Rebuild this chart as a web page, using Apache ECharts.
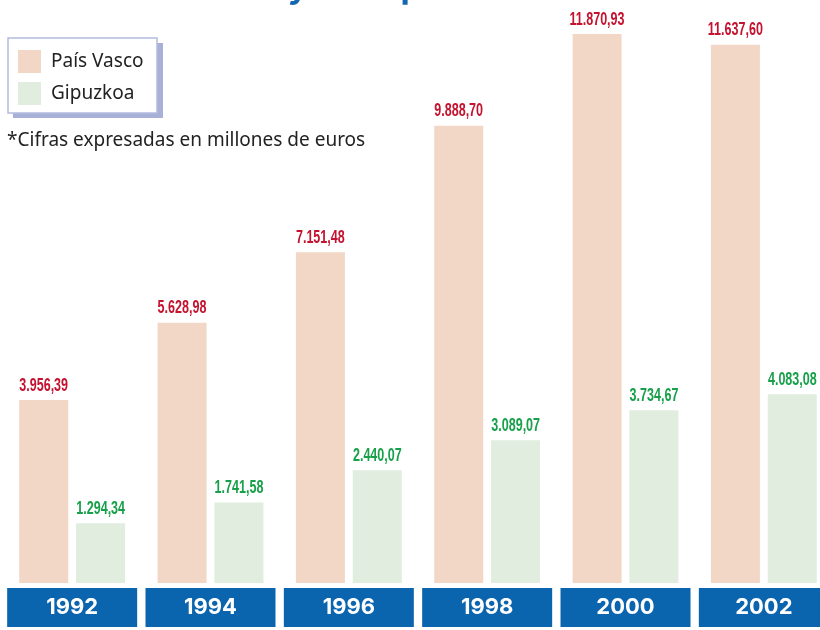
<!DOCTYPE html>
<html>
<head>
<meta charset="utf-8">
<script src="https://cdn.jsdelivr.net/npm/echarts@6/dist/echarts.min.js"></script>
<style>
  html, body { margin: 0; padding: 0; background: #fff; }
  #chart { width: 820px; height: 630px; }
</style>
</head>
<body>
<div id="chart"></div>
<script>
const years = ['1992', '1994', '1996', '1998', '2000', '2002'];
const paisVasco = [3956.39, 5628.98, 7151.48, 9888.70, 11870.93, 11637.60];
const gipuzkoa = [1294.34, 1741.58, 2440.07, 3089.07, 3734.67, 4083.08];

// 3956.39 -> "3.956,39"
function fmt(v) {
  const parts = v.toFixed(2).split('.');
  return parts[0].replace(/\B(?=(\d{3})+(?!\d))/g, '.') + ',' + parts[1];
}

// value labels in a squeezed bold face (no condensed font available)
function labelSeries(name, values, shift, color) {
  return {
    name: name + ' etiquetas',
    type: 'custom',
    data: values.map((v, i) => [i, v]),
    silent: true,
    z: 5,
    renderItem: (params, api) => {
      const pt = api.coord([api.value(0), api.value(1)]);
      return {
        type: 'text',
        x: pt[0] + shift,
        y: pt[1] - 5,
        scaleX: 0.66,
        style: {
          text: fmt(api.value(1)),
          fill: color,
          font: 'bold 19px "Liberation Sans", Arial, sans-serif',
          align: 'center',
          verticalAlign: 'bottom'
        }
      };
    }
  };
}

const chart = echarts.init(document.getElementById('chart'));
chart.setOption({
  animation: false,
  grid: {
    left: 3,
    width: 830,
    top: 28,
    bottom: 47,
    containLabel: false,
    outerBoundsMode: 'none'
  },
  legend: {
    orient: 'vertical',
    left: 8,
    top: 39,
    padding: [11, 0, 0, 10],
    itemWidth: 23,
    itemHeight: 23,
    itemGap: 9,
    icon: 'rect',
    textStyle: {
      color: '#222',
      fontFamily: '"Noto Sans", sans-serif',
      fontSize: 19,
      padding: [0, 0, 0, 5]
    },
    data: ['País Vasco', 'Gipuzkoa']
  },
  graphic: [
    {
      type: 'rect',
      z: 0,
      shape: { x: 13, y: 43, width: 150, height: 75 },
      style: { fill: '#a9b0d8' }
    },
    {
      type: 'rect',
      z: 1,
      shape: { x: 8, y: 38, width: 149, height: 75 },
      style: { fill: '#fff', stroke: '#b4bbe0', lineWidth: 1.5 }
    },
    {
      type: 'text',
      left: 7,
      top: 131,
      style: {
        text: '*Cifras expresadas en millones de euros',
        fill: '#222',
        font: '19px "Noto Sans", sans-serif'
      }
    },
    {
      type: 'text',
      x: 12,
      y: -12,
      style: {
        text: 'en el País Vasco y en Gipuzkoa',
        fill: '#1466b3',
        font: 'bold 34px Inter, sans-serif',
        verticalAlign: 'middle'
      }
    }
  ],
  xAxis: {
    type: 'category',
    data: years,
    axisLine: { show: false },
    axisTick: { show: false },
    axisLabel: {
      margin: 5,
      color: '#fff',
      fontFamily: 'Inter, sans-serif',
      fontWeight: 'bold',
      fontSize: 22,
      backgroundColor: '#0b64ae',
      width: 130,
      height: 39,
      lineHeight: 39,
      align: 'center'
    }
  },
  yAxis: {
    type: 'value',
    min: 0,
    max: 12000,
    show: false,
    splitLine: { show: false }
  },
  series: [
    {
      name: 'País Vasco',
      type: 'bar',
      data: paisVasco,
      barWidth: 49,
      barGap: '16%',
      itemStyle: { color: '#f2d7c6' }
    },
    {
      name: 'Gipuzkoa',
      type: 'bar',
      data: gipuzkoa,
      barWidth: 49,
      itemStyle: { color: '#e0eddf' }
    },
    labelSeries('País Vasco', paisVasco, -28.5, '#c4122f'),
    labelSeries('Gipuzkoa', gipuzkoa, 28.5, '#17a04a')
  ]
});
</script>
</body>
</html>
